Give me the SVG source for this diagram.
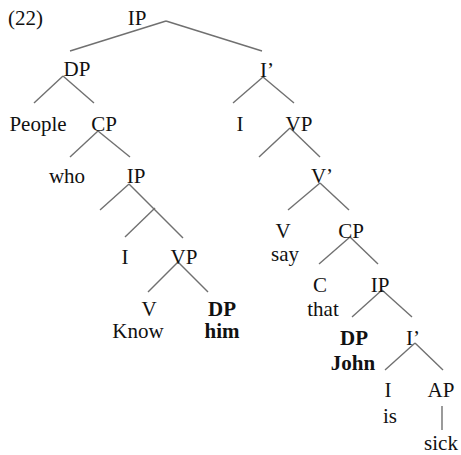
<svg xmlns="http://www.w3.org/2000/svg" width="461" height="455" viewBox="0 0 461 455">
<style>
text{font-size:21px;fill:#111;text-anchor:middle}
.b{font-weight:bold}
#edges line{stroke:#707070;stroke-width:1.4;fill:none}
</style>
<rect width="461" height="455" fill="#fff"/>
<g id="edges">
<line x1="166" y1="21" x2="70" y2="51"/>
<line x1="166" y1="21" x2="262" y2="51"/>
<line x1="63" y1="76" x2="34" y2="103"/>
<line x1="63" y1="76" x2="94" y2="103"/>
<line x1="98" y1="131" x2="70" y2="157"/>
<line x1="98" y1="131" x2="130" y2="157"/>
<line x1="129" y1="184" x2="100" y2="210"/>
<line x1="129" y1="184" x2="183" y2="238"/>
<line x1="155" y1="208" x2="125" y2="237"/>
<line x1="178" y1="262" x2="148" y2="292"/>
<line x1="178" y1="262" x2="208" y2="292"/>
<line x1="263" y1="77" x2="233" y2="103"/>
<line x1="263" y1="77" x2="294" y2="103"/>
<line x1="290" y1="128" x2="259" y2="157"/>
<line x1="290" y1="128" x2="320" y2="157"/>
<line x1="320" y1="183" x2="288" y2="210"/>
<line x1="320" y1="183" x2="349" y2="210"/>
<line x1="350" y1="237" x2="319" y2="264"/>
<line x1="350" y1="237" x2="378" y2="264"/>
<line x1="382" y1="290" x2="352" y2="317"/>
<line x1="382" y1="290" x2="412" y2="317"/>
<line x1="415" y1="343" x2="385" y2="370"/>
<line x1="415" y1="343" x2="443" y2="370"/>
<line x1="442" y1="406" x2="442" y2="430"/>
</g>
<g font-family="Liberation Serif, Times New Roman, DejaVu Serif, serif">
<g id="label-22"><text x="8" y="25" style="text-anchor:start">(22)</text></g>
<g id="n-IP"><text x="137" y="25">IP</text></g>
<g id="n-DP"><text x="77" y="76">DP</text></g>
<g id="n-People"><text x="38" y="131">People</text></g>
<g id="n-CP1"><text x="104" y="131">CP</text></g>
<g id="n-who"><text x="67" y="183">who</text></g>
<g id="n-IP1"><text x="136" y="183">IP</text></g>
<g id="n-I1"><text x="125" y="264">I</text></g>
<g id="n-VP1"><text x="184" y="264">VP</text></g>
<g id="n-V1"><text x="149" y="316">V</text><text x="138" y="338">Know</text></g>
<g id="n-DPhim"><text class="b" x="222" y="316">DP</text><text class="b" x="222" y="338">him</text></g>
<g id="n-Ibar"><text x="267" y="77">I’</text></g>
<g id="n-I2"><text x="240" y="131">I</text></g>
<g id="n-VP2"><text x="299" y="131">VP</text></g>
<g id="n-Vbar"><text x="322" y="183">V’</text></g>
<g id="n-V2"><text x="283" y="238">V</text><text x="285" y="261">say</text></g>
<g id="n-CP2"><text x="351" y="238">CP</text></g>
<g id="n-C"><text x="320" y="292">C</text><text x="323" y="316">that</text></g>
<g id="n-IP2"><text x="380" y="292">IP</text></g>
<g id="n-DPJohn"><text class="b" x="354" y="345">DP</text><text class="b" x="353" y="370">John</text></g>
<g id="n-Ibar2"><text x="413" y="345">I’</text></g>
<g id="n-I3"><text x="388" y="397">I</text><text x="390" y="423">is</text></g>
<g id="n-AP"><text x="441" y="397">AP</text><text x="441" y="450">sick</text></g>
</g>
</svg>
